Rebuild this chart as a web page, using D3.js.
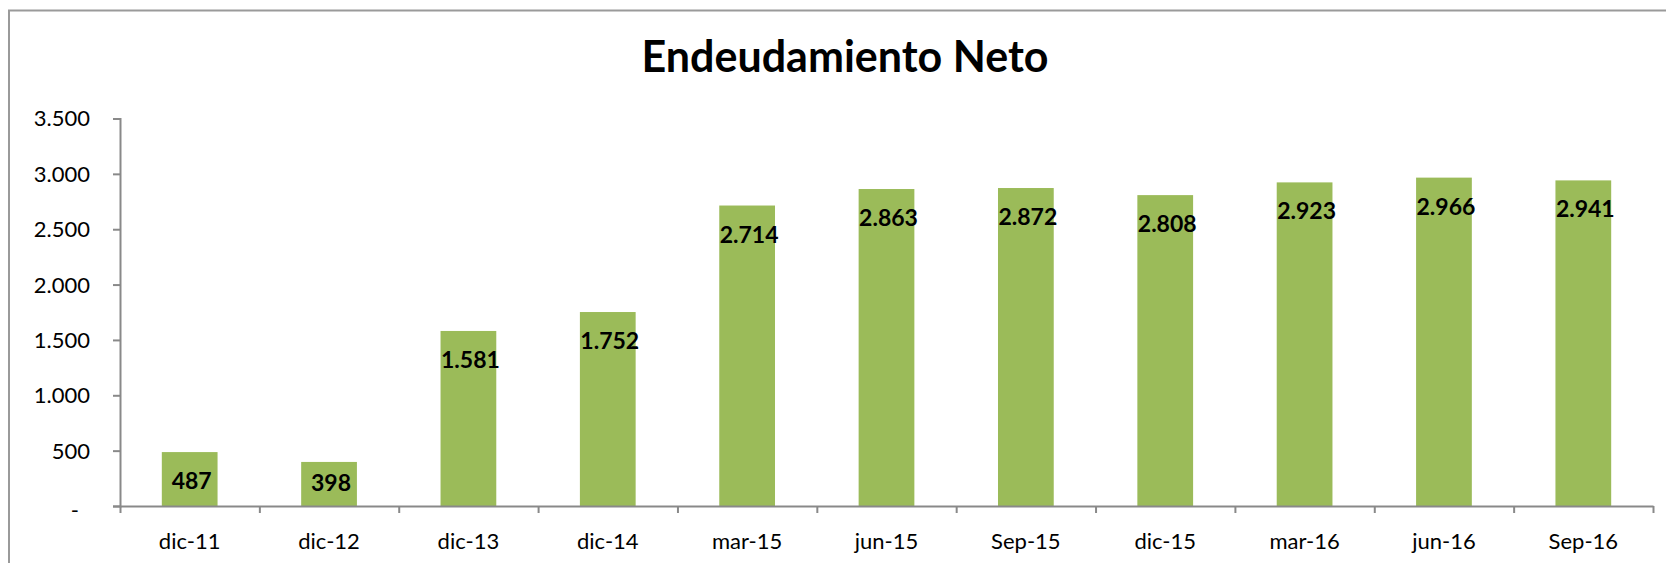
<!DOCTYPE html>
<html>
<head>
<meta charset="utf-8">
<script src="https://cdn.jsdelivr.net/npm/d3@7"></script>
<style>
  html, body { margin: 0; padding: 0; background: #fff; }
  svg { display: block; }
  text { font-family: Lato, "Liberation Sans", sans-serif; fill: #000; }
</style>
</head>
<body>
<svg id="chart" width="1666" height="563"></svg>
<script>
// Net debt by period
const categories = ["dic-11", "dic-12", "dic-13", "dic-14", "mar-15", "jun-15",
                    "Sep-15", "dic-15", "mar-16", "jun-16", "Sep-16"];
const values = [487, 398, 1581, 1752, 2714, 2863, 2872, 2808, 2923, 2966, 2941];
const yTickValues = [0, 500, 1000, 1500, 2000, 2500, 3000, 3500];
const yTickLabels = ["-", "500", "1.000", "1.500", "2.000", "2.500", "3.000", "3.500"];
const titleText = "Endeudamiento Neto";

const svg = d3.select("#chart");
const W = 1666, H = 563;
const plot = { left: 120, right: 1653, top: 118.5, bottom: 506 };
const barColor = "#9BBB59";
const axisColor = "#898989";

// Chart area frame (left and top edges visible)
svg.append("path")
  .attr("d", `M9,${H + 2}V10.5H${W + 2}`)
  .attr("fill", "none")
  .attr("stroke", "#9a9a9a")
  .attr("stroke-width", 2);

const x = d3.scaleBand()
  .domain(categories)
  .range([plot.left, plot.right])
  .paddingInner(0.6)
  .paddingOuter(0.3);

const y = d3.scaleLinear()
  .domain([0, 3500])
  .range([plot.bottom, plot.top]);

// Category boundaries for the x-axis tick marks
const xEdge = d3.scaleLinear()
  .domain([0, categories.length])
  .range([plot.left, plot.right]);

// Title
svg.append("text")
  .attr("x", 845)
  .attr("y", 72)
  .attr("text-anchor", "middle")
  .style("font-size", "43px")
  .style("font-weight", "bold")
  .text(titleText);

// Bars
svg.append("g")
  .selectAll("rect")
  .data(values)
  .join("rect")
  .attr("x", (d, i) => x(categories[i]))
  .attr("y", d => y(d))
  .attr("width", x.bandwidth())
  .attr("height", d => y(0) - y(d))
  .attr("fill", barColor);

// Y axis
const yAxis = svg.append("g")
  .attr("transform", `translate(${plot.left},0)`)
  .call(d3.axisLeft(y)
    .tickValues(yTickValues)
    .tickFormat((d, i) => yTickLabels[i])
    .tickSize(7)
    .tickPadding(23));
yAxis.select(".domain").attr("stroke", axisColor).attr("stroke-width", 2);
yAxis.selectAll(".tick line").attr("stroke", axisColor).attr("stroke-width", 2);
yAxis.selectAll(".tick text")
  .style("font-size", "22px")
  .attr("fill", "#000")
  .attr("dx", d => d === 0 ? -11 : 0)
  .attr("dy", d => d === 0 ? "0.5em" : "0.34em");

// X axis: tick marks at category boundaries
const xTicks = svg.append("g")
  .attr("transform", `translate(0,${plot.bottom})`)
  .call(d3.axisBottom(xEdge)
    .tickValues(d3.range(0, categories.length + 1))
    .tickFormat("")
    .tickSize(7)
    .tickSizeOuter(0));
xTicks.select(".domain").attr("stroke", axisColor).attr("stroke-width", 2);
xTicks.selectAll(".tick line").attr("stroke", axisColor).attr("stroke-width", 2);

// X axis: category labels
const xLabels = svg.append("g")
  .attr("transform", `translate(0,${plot.bottom})`)
  .call(d3.axisBottom(x).tickSize(0).tickPadding(27));
xLabels.select(".domain").remove();
xLabels.selectAll(".tick text")
  .style("font-size", "22px")
  .attr("fill", "#000");

// Value labels inside the top of each bar
const fmt = d3.formatLocale({ decimal: ",", thousands: ".", grouping: [3], currency: ["", ""] }).format(",d");
svg.append("g")
  .selectAll("text")
  .data(values)
  .join("text")
  .attr("x", (d, i) => x(categories[i]) + x.bandwidth() / 2 + 2)
  .attr("y", d => Math.min(y(d) + 37, y(0) - 15))
  .attr("text-anchor", "middle")
  .style("font-size", "23px")
  .style("font-weight", "bold")
  .text(d => fmt(d));
</script>
</body>
</html>
